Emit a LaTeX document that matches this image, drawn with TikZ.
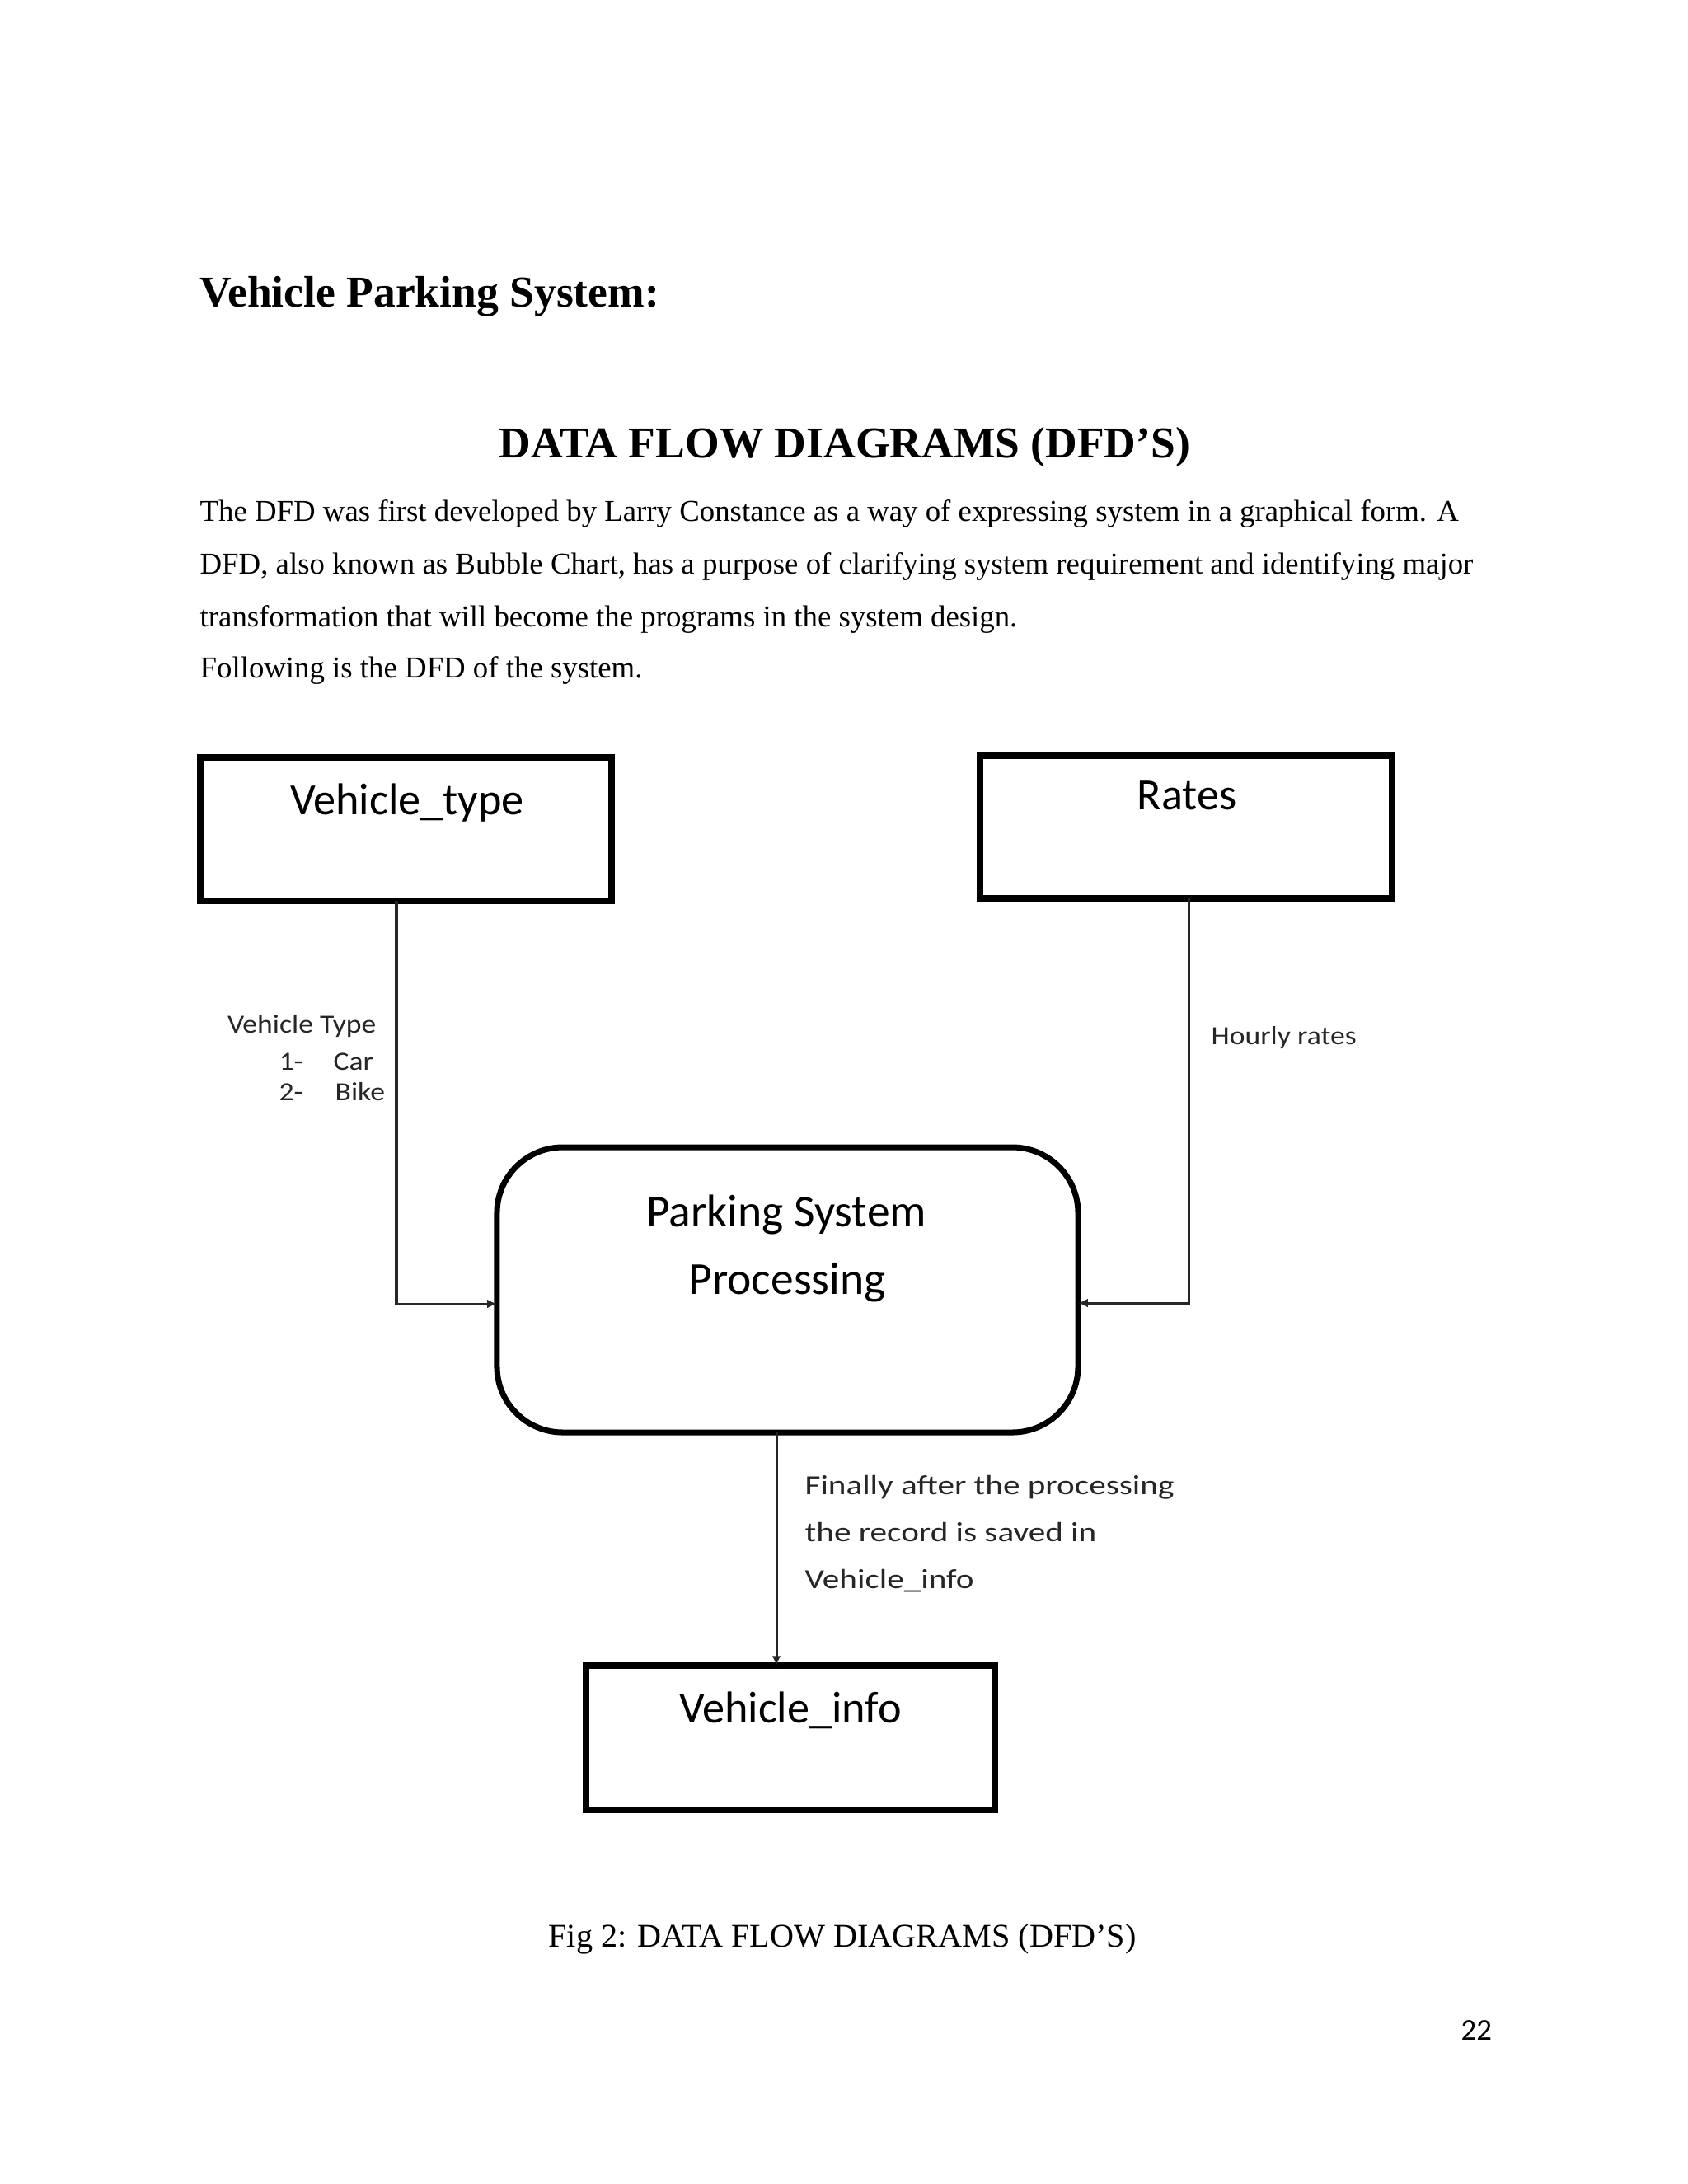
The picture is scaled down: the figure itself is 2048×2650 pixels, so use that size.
\documentclass[tikz,border=0pt]{standalone}
\usepackage{fontspec}
\setmainfont{Liberation Serif}
\newfontfamily\diafont{Carlito}
\usetikzlibrary{arrows.meta}
\begin{document}
\begin{tikzpicture}[x=0.29883pt, y=-0.29883pt,
  store/.style={draw=black, line width=2.4pt, rectangle, inner sep=0pt, outer sep=0pt},
  procbox/.style={draw=black, line width=2.1pt, rectangle, rounded corners=23.9pt, inner sep=0pt, outer sep=0pt},
  flow/.style={draw=black!85, line width=0.9pt, -{Latex[length=3.5pt,width=3.2pt]}},
  boxtext/.style={anchor=base, inner sep=0pt, font=\diafont\fontsize{16.2}{19}\selectfont},
  proctext/.style={anchor=base, inner sep=0pt, font=\diafont\fontsize{16.6}{20}\selectfont},
  smalltext/.style={inner sep=0pt, text=black!85, font=\diafont\fontsize{9.5}{11}\selectfont},
  bodytext/.style={anchor=base west, inner sep=0pt, font=\fontsize{11}{13}\selectfont}
]
\useasboundingbox[fill=white] (0,0) rectangle (2048,2650);

% headings and body text
\node[anchor=base west, inner sep=0pt, font=\bfseries\fontsize{16}{19}\selectfont] (title) at (242,372) {Vehicle Parking System:};
\node[anchor=base, inner sep=0pt, font=\bfseries\fontsize{16}{19}\selectfont] (heading) at (1025,555) {DATA FLOW DIAGRAMS (DFD’S)};
\node[bodytext] (p1) at (242,632) {The DFD was first developed by Larry Constance as a way of expressing system in a graphical form. A};
\node[bodytext] (p2) at (242,696) {DFD, also known as Bubble Chart, has a purpose of clarifying system requirement and identifying major};
\node[bodytext] (p3) at (242,760) {transformation that will become the programs in the system design.};
\node[bodytext] (p4) at (242,822) {Following is the DFD of the system.};

% boxes
\node[store, minimum width=149.1pt, minimum height=52.0pt] (vt) at (492.5,1006) {};
\node[store, minimum width=149.4pt, minimum height=51.7pt] (rates) at (1439,1003.5) {};
\node[procbox, minimum width=210.7pt, minimum height=103.4pt] (proc) at (955.5,1565) {};
\node[store, minimum width=148.2pt, minimum height=52.3pt] (vi) at (959,2108.5) {};

\node[boxtext] (vtlabel) at (494,988) {Vehicle\_type};
\node[boxtext] (rateslabel) at (1440,982) {Rates};
\node[proctext] (proclabel1) at (954,1488) {Parking System};
\node[proctext] (proclabel2) at (955,1570) {Processing};
\node[boxtext] (vilabel) at (959,2090) {Vehicle\_info};

% connectors
\coordinate (vtx) at (481,1582);
\coordinate (rx) at (1442,1581);
\coordinate (bx) at (942,1880);
\draw[flow] (vt.south -| vtx) -- (vtx) -- (proc.west |- vtx);
\draw[flow] (rates.south -| rx) -- (rx) -- (proc.east |- rx);
\draw[flow] (proc.south -| bx) -- (vi.north -| bx);

% flow labels
\node[smalltext, anchor=base east] (vtl1) at (457,1253) {\scalebox{1.12}[1]{Vehicle Type}};
\node[smalltext, anchor=base west] (vtl2a) at (338,1298) {\scalebox{1.12}[1]{1-}};
\node[smalltext, anchor=base west] (vtl2b) at (404,1298) {\scalebox{1.12}[1]{Car}};
\node[smalltext, anchor=base west] (vtl3a) at (338,1335) {\scalebox{1.12}[1]{2-}};
\node[smalltext, anchor=base west] (vtl3b) at (406,1335) {\scalebox{1.12}[1]{Bike}};
\node[smalltext, anchor=base west] (hr) at (1469,1267) {\scalebox{1.12}[1]{Hourly rates}};
\node[smalltext, anchor=base west, font=\diafont\fontsize{10}{12}\selectfont] (fin1) at (976,1813) {\scalebox{1.23}[1]{Finally after the processing}};
\node[smalltext, anchor=base west, font=\diafont\fontsize{10}{12}\selectfont] (fin2) at (976,1870) {\scalebox{1.23}[1]{the record is saved in}};
\node[smalltext, anchor=base west, font=\diafont\fontsize{10}{12}\selectfont] (fin3) at (976,1927) {\scalebox{1.23}[1]{Vehicle\_info}};

% caption and page number
\node[anchor=base, inner sep=0pt, font=\fontsize{12}{14}\selectfont] (caption) at (1022,2362) {Fig 2: DATA FLOW DIAGRAMS (DFD’S)};
\node[anchor=base west, inner sep=0pt, font=\diafont\fontsize{11}{13}\selectfont] (page) at (1772,2475) {22};
\end{tikzpicture}
\end{document}
